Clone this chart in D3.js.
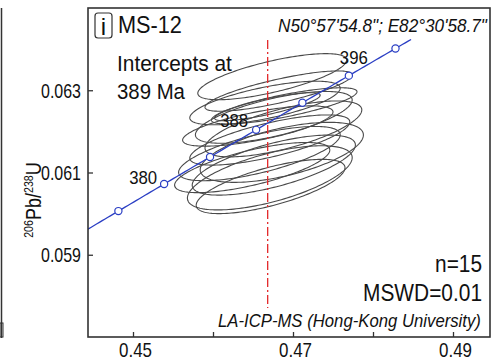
<!DOCTYPE html>
<html><head><meta charset="utf-8">
<script src="https://cdn.jsdelivr.net/npm/d3@7"></script>
<style>
html,body{margin:0;padding:0;background:#fff;}
svg{display:block;font-family:"Liberation Sans",Arial,Helvetica,sans-serif;}
</style></head><body>
<svg id="chart" width="492" height="361"></svg>
<script>
// Zircon analyses: 207Pb/235U, 206Pb/238U (centres, 2-sigma errors) and error correlation
const x75    = [0.4674, 0.4682, 0.4665, 0.4689, 0.4676, 0.4656, 0.4688, 0.4671, 0.4686, 0.4658, 0.4676, 0.4649, 0.4671, 0.4672, 0.4668];
const x75Err = [0.0093, 0.0092, 0.0094, 0.0091, 0.0098, 0.0094, 0.0098, 0.0100, 0.0102, 0.0101, 0.0102, 0.0097, 0.0103, 0.0093, 0.0066];
const y68    = [0.06333, 0.06298, 0.06269, 0.06262, 0.06234, 0.06213, 0.06206, 0.06179, 0.06149, 0.06146, 0.06118, 0.06112, 0.06087, 0.06066, 0.06260];
const y68Err = [0.00056, 0.00049, 0.00053, 0.00044, 0.00063, 0.00049, 0.00068, 0.00061, 0.00073, 0.00066, 0.00073, 0.00061, 0.00078, 0.00066, 0.00034];
const rho    = [0.72, 0.80, 0.68, 0.78, 0.67, 0.70, 0.68, 0.72, 0.58, 0.69, 0.67, 0.70, 0.63, 0.69, 0.82];

// Concordia age marks (Ma) and which of them carry a label
const ageTicks  = [376, 380, 384, 388, 392, 396, 400];
const ageLabels = [380, 388, 396];
const concordiaEnd = 401.5;
const interceptAge = 389;

// Axis ticks
const xTickValues = [0.45, 0.46, 0.47, 0.48, 0.49];
const xTickLabels = ["0.45", "", "0.47", "", "0.49"];
const yTickValues = [0.059, 0.061, 0.063];
const yTickLabels = ["0.059", "0.061", "0.063"];

// Sample annotations
const sampleId = "MS-12";
const panelLetter = "i";
const siteCoords = "N50°57'54.8\"; E82°30'58.7\"";
const methodNote = "LA-ICP-MS (Hong-Kong University)";
const nAnalyses = 15;
const mswd = "0.01";

// U decay constants (per year)
const L238 = 1.55125e-10, L235 = 9.8485e-10;
const conc = t => ({ x: Math.expm1(L235 * t * 1e6), y: Math.expm1(L238 * t * 1e6) });

(function draw() {
const svg = d3.select("#chart");
const W = 492, H = 361;
const pL = 88, pR = 490, pT = 8, pB = 337;

const x = d3.scaleLinear().domain([0.444375, 0.494625]).range([pL, pR]);
const y = d3.scaleLinear().domain([0.057, 0.065]).range([pB, pT]);

const ink = "#333";
// condense a text horizontally to a target width, keeping its anchor point fixed
function fit(sel, w) {
  const node = sel.node();
  const k = Math.min(1, w / node.getComputedTextLength());
  const tx = +(sel.attr("x") || 0), ty = +(sel.attr("y") || 0);
  const prev = sel.attr("transform") || "";
  sel.attr("x", 0).attr("y", 0)
    .attr("transform", `${prev} translate(${tx},${ty}) scale(${k},1)`);
  return sel;
}

svg.append("rect").attr("width", W).attr("height", H).attr("fill", "#fff");

// edge of the neighbouring panel
svg.append("line").attr("x1", 1.5).attr("x2", 1.5).attr("y1", pT).attr("y2", pB + 1)
  .attr("stroke", ink).attr("stroke-width", 1.5);
svg.append("rect").attr("x", 0).attr("y", 323).attr("width", 3).attr("height", 14)
  .attr("fill", "none").attr("stroke", ink).attr("stroke-width", 1);

svg.append("clipPath").attr("id", "plotClip").append("rect")
  .attr("x", pL).attr("y", pT).attr("width", pR - pL).attr("height", pB - pT);
const plot = svg.append("g").attr("clip-path", "url(#plotClip)");

// error ellipses
const steps = d3.range(0, 2 * Math.PI + 0.001, Math.PI / 90);
const ellLine = d3.line().x(d => x(d[0])).y(d => y(d[1])).curve(d3.curveLinearClosed);
plot.append("g").selectAll("path").data(d3.range(x75.length)).join("path")
  .attr("d", i => {
    const r = rho[i], s = Math.sqrt(1 - r * r);
    return ellLine(steps.map(a => [x75[i] + x75Err[i] * Math.cos(a),
                                   y68[i] + y68Err[i] * (r * Math.cos(a) + s * Math.sin(a))]));
  })
  .attr("fill", "none").attr("stroke", "#4a4a4a").attr("stroke-width", 1.1);

// concordia curve
const tStart = Math.log1p(x.domain()[0]) / L235 / 1e6 - 0.5;
const concPts = d3.range(tStart, concordiaEnd + 0.001, 0.25).map(conc);
const blue = "#2b3fc4";
plot.append("path")
  .attr("d", d3.line().x(d => x(d.x)).y(d => y(d.y))(concPts))
  .attr("fill", "none").attr("stroke", blue).attr("stroke-width", 1.3);
plot.append("g").selectAll("circle").data(ageTicks).join("circle")
  .attr("cx", t => x(conc(t).x)).attr("cy", t => y(conc(t).y)).attr("r", 3.6)
  .attr("fill", "#fff").attr("stroke", blue).attr("stroke-width", 1.2);

// intercept age marker
const xi = x(conc(interceptAge).x);
svg.append("line").attr("x1", xi).attr("x2", xi).attr("y1", 40).attr("y2", 308)
  .attr("stroke", "#e3282a").attr("stroke-width", 1.3).attr("stroke-dasharray", "9,3,2,3");

// age labels on concordia
const labelOffset = { 380: [-21, 0], 388: [-22, -3], 396: [5, -12] };
svg.append("g").selectAll("text").data(ageLabels).join("text")
  .attr("x", t => x(conc(t).x) + labelOffset[t][0])
  .attr("y", t => y(conc(t).y) + labelOffset[t][1])
  .attr("text-anchor", "middle").attr("font-size", 18).attr("fill", "#111")
  .text(t => t).each(function () { fit(d3.select(this), 28); });

// frame
svg.append("rect").attr("x", pL).attr("y", pT).attr("width", pR - pL).attr("height", pB - pT)
  .attr("fill", "none").attr("stroke", ink).attr("stroke-width", 1.6);

// axes with inward ticks
const xAxis = svg.append("g").attr("transform", `translate(0,${pB})`)
  .call(d3.axisBottom(x).tickValues(xTickValues).tickSize(-5).tickPadding(6)
    .tickFormat((d, i) => xTickLabels[i]));
const yAxis = svg.append("g").attr("transform", `translate(${pL},0)`)
  .call(d3.axisLeft(y).tickValues(yTickValues).tickSize(-5).tickPadding(7)
    .tickFormat((d, i) => yTickLabels[i]));
[xAxis, yAxis].forEach(g => {
  g.select(".domain").remove();
  g.selectAll(".tick line").attr("stroke", ink).attr("stroke-width", 1.3);
  g.selectAll(".tick text").attr("font-family", "Liberation Sans, Arial, sans-serif")
    .attr("font-size", 20).attr("fill", "#111");
});
xAxis.selectAll(".tick text").attr("dy", null).attr("y", 20).attr("x", 2)
  .each(function () { if (this.textContent) fit(d3.select(this), 33); });
yAxis.selectAll(".tick text").attr("dy", "0.36em").each(function () { fit(d3.select(this), 40); });

// y axis title: 206Pb/238U
const yt = svg.append("text").attr("transform", "translate(41,200) rotate(-90) scale(0.82,1)")
  .attr("text-anchor", "middle").attr("fill", "#111").attr("font-size", 22);
yt.append("tspan").attr("font-size", 13).attr("dy", -8).text("206");
yt.append("tspan").attr("dy", 8).text("Pb/");
yt.append("tspan").attr("font-size", 13).attr("dy", -8).text("238");
yt.append("tspan").attr("dy", 8).text("U");

// panel letter and sample id
svg.append("rect").attr("x", 95).attr("y", 13).attr("width", 17).attr("height", 25).attr("rx", 3)
  .attr("fill", "none").attr("stroke", ink).attr("stroke-width", 1.2);
svg.append("text").attr("x", 103.5).attr("y", 34.5).attr("text-anchor", "middle")
  .attr("font-size", 24).attr("fill", "#111").text(panelLetter);
fit(svg.append("text").attr("x", 118).attr("y", 33).attr("font-size", 24).attr("fill", "#111").text(sampleId), 64);

// intercept text
fit(svg.append("text").attr("x", 117).attr("y", 71).attr("font-size", 22).attr("fill", "#111").text("Intercepts at"), 115);
fit(svg.append("text").attr("x", 117).attr("y", 99).attr("font-size", 22).attr("fill", "#111").text(interceptAge + " Ma"), 68);

// site coordinates
fit(svg.append("text").attr("x", 278).attr("y", 32).attr("font-size", 19).attr("font-style", "italic")
  .attr("fill", "#111").text(siteCoords), 209);

// statistics
fit(svg.append("text").attr("x", 482).attr("y", 272).attr("font-size", 23).attr("text-anchor", "end")
  .attr("fill", "#111").text("n=" + nAnalyses), 47);
fit(svg.append("text").attr("x", 482).attr("y", 301).attr("font-size", 23).attr("text-anchor", "end")
  .attr("fill", "#111").text("MSWD=" + mswd), 119);

// analytical method
fit(svg.append("text").attr("x", 218).attr("y", 327).attr("font-size", 17.5).attr("font-style", "italic")
  .attr("fill", "#111").text(methodNote), 263);
})();
</script>
</body></html>
